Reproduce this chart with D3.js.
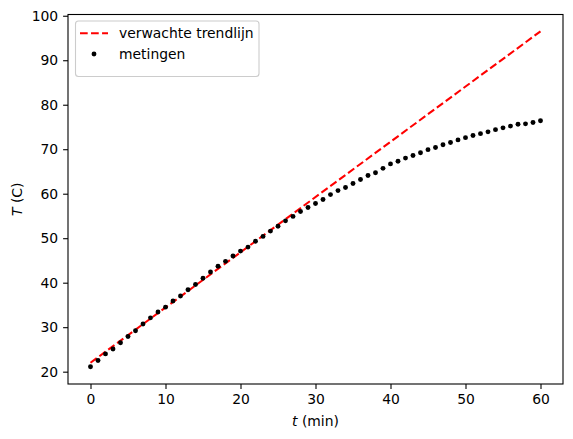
<!DOCTYPE html>
<html><head><meta charset="utf-8">
<script src="https://cdn.jsdelivr.net/npm/d3@7"></script>
<style>
html,body{margin:0;padding:0;background:#fff;}
svg text{font-family:"DejaVu Sans",sans-serif;}
</style></head>
<body>
<script>
const times = d3.range(0, 61);
const measuredT = [21.1,22.5,24.0,25.1,26.5,27.9,29.2,30.7,32.1,33.4,34.5,35.9,37.0,38.4,39.6,41.0,42.4,43.7,44.8,46.0,47.1,48.0,49.3,50.4,51.6,52.7,53.9,54.9,56.0,56.9,57.8,58.7,59.8,60.7,61.4,62.3,63.2,64.1,64.7,65.7,66.7,67.3,68.0,68.6,69.2,69.9,70.4,71.0,71.5,72.1,72.6,73.1,73.5,73.9,74.4,74.8,75.2,75.6,75.7,76.0,76.4];
const trendTimes = [0, 60];
const trendT = [22.0, 96.5];
const xTicks = [0,10,20,30,40,50,60];
const yTicks = [20,30,40,50,60,70,80,90,100];
const legendLabels = ["verwachte trendlijn", "metingen"];

const W = 573, H = 439;
const L = 68, R = 563, T = 14.5, B = 384;
const svg = d3.select("body").append("svg").attr("width", W).attr("height", H);

const x = d3.scaleLinear().domain([-3, 63]).range([L, R]);
const ymin = 17.23, ymax = 100.28;
const y = d3.scaleLinear().domain([ymin, ymax]).range([B, T]);

const fs = "13.9px";
// axes
const xAxis = d3.axisBottom(x).tickValues(xTicks).tickSize(4.9).tickPadding(4.9).tickFormat(d3.format("d"));
const yAxis = d3.axisLeft(y).tickValues(yTicks).tickSize(4.9).tickPadding(4.9).tickFormat(d3.format("d"));
const gx = svg.append("g").attr("transform", `translate(0,${B})`).call(xAxis);
const gy = svg.append("g").attr("transform", `translate(${L},0)`).call(yAxis);
[gx, gy].forEach(g => {
  g.select(".domain").remove();
  g.selectAll("line").attr("stroke", "#000").attr("stroke-width", 1.1);
  g.selectAll("text").attr("font-size", fs).attr("fill", "#000").style("font-family", "DejaVu Sans");
});

const plot = svg.append("g");
const clip = svg.append("clipPath").attr("id","c").append("rect").attr("x",L).attr("y",T).attr("width",R-L).attr("height",B-T);

// trend line
const line = d3.line().x((d,i)=>x(trendTimes[i])).y(d=>y(d));
plot.append("path").datum(trendT).attr("d", line).attr("fill","none")
  .attr("stroke","#ff0000").attr("stroke-width",2.08).attr("stroke-dasharray","7.7,3.33");

// points
plot.selectAll("circle.m").data(measuredT).join("circle").attr("class","m")
  .attr("cx",(d,i)=>x(times[i])).attr("cy",d=>y(d)).attr("r",2.45).attr("fill","#000");

// spines
svg.append("rect").attr("x",L).attr("y",T).attr("width",R-L).attr("height",B-T)
  .attr("fill","none").attr("stroke","#000").attr("stroke-width",1.1);

// labels
const xl = svg.append("text").attr("x",(L+R)/2).attr("y",426).attr("text-anchor","middle").attr("font-size",fs);
xl.append("tspan").attr("font-style","italic").text("t");
xl.append("tspan").text(" (min)");
const yl = svg.append("text").attr("transform",`translate(22,${(T+B)/2}) rotate(-90)`).attr("text-anchor","middle").attr("font-size",fs);
yl.append("tspan").attr("font-style","italic").text("T");
yl.append("tspan").text(" (C)");

// legend
const lg = svg.append("g");
lg.append("rect").attr("x",75.5).attr("y",21).attr("width",183.5).attr("height",55.5).attr("rx",3)
  .attr("fill","#fff").attr("fill-opacity",0.8).attr("stroke","#cccccc").attr("stroke-width",1.1);
lg.append("line").attr("x1",80).attr("x2",108).attr("y1",33.3).attr("y2",33.3)
  .attr("stroke","#ff0000").attr("stroke-width",2.08).attr("stroke-dasharray","7.7,3.33");
lg.append("circle").attr("cx",94).attr("cy",54).attr("r",2.45).attr("fill","#000");
lg.selectAll("text.lt").data(legendLabels).join("text").attr("class","lt")
  .attr("x",119).attr("y",(d,i)=>38.2+i*20.8).attr("font-size",fs).text(d=>d);
</script>
</body></html>
